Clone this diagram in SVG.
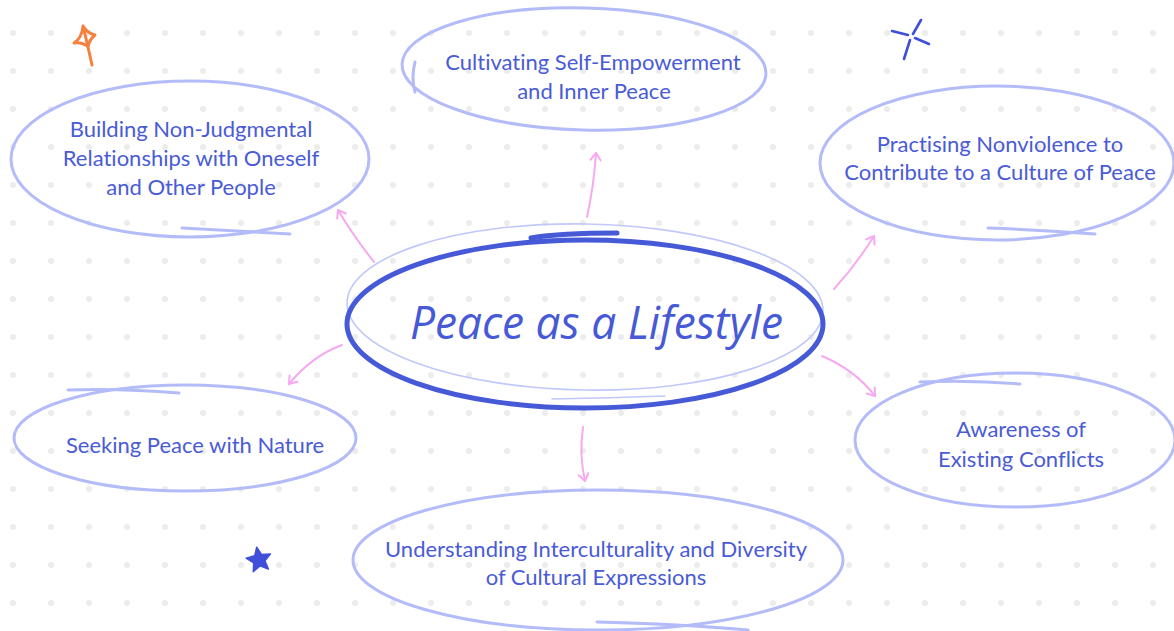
<svg xmlns="http://www.w3.org/2000/svg" width="1174" height="631" viewBox="0 0 1174 631">
  <style>
    .node-outline { fill: none; stroke: #b3bcf8; stroke-width: 3; stroke-linecap: round; }
    .node-text { font-family: "Lato", "Liberation Sans", sans-serif; font-size: 22px; fill: #4a5bd6; text-anchor: middle; font-variant-ligatures: none; }
    .conn { fill: none; stroke: #f6a9f1; stroke-width: 2; stroke-linecap: round; }
    .center-thick { fill: none; stroke: #4659d6; stroke-width: 5; stroke-linecap: round; }
    .center-thin { fill: none; stroke: #c1c8fa; stroke-width: 1.6; stroke-linecap: round; }
  </style>
  <defs>
    <pattern id="dots" patternUnits="userSpaceOnUse" x="-6" y="14" width="38" height="38">
      <circle cx="19" cy="19" r="3" fill="#ececec"/>
    </pattern>
    <marker id="arrow" markerUnits="userSpaceOnUse" markerWidth="12" markerHeight="12" refX="8" refY="5" orient="auto" overflow="visible">
      <path d="M1,0 L8,5 L1,10" fill="none" stroke="#f6a9f1" stroke-width="2" stroke-linecap="round" stroke-linejoin="round"/>
    </marker>
  </defs>

  <rect width="1174" height="631" fill="#ffffff"/>
  <rect width="1174" height="631" fill="url(#dots)"/>

  <g id="decorations">
    <path d="M83,26 Q87,33 95,35 Q89,40 88,47 L92,65 M88,47 Q83,42 74,43 Q82,38 83,26 Z" fill="none" stroke="#f5813f" stroke-width="3" stroke-linecap="round" stroke-linejoin="round"/>
    <g stroke="#3f4fd8" stroke-width="2.6" stroke-linecap="round">
      <line x1="892" y1="31" x2="908" y2="35"/>
      <line x1="915" y1="38" x2="929" y2="44"/>
      <line x1="921" y1="20" x2="913" y2="34"/>
      <line x1="910" y1="40" x2="904" y2="59"/>
    </g>
    <polygon points="256.7,547.2 261.6,554.6 270.5,553.9 264.9,560.8 268.4,569 260,565.9 253.3,571.7 253.7,562.8 246.1,558.2 254.7,555.8" fill="#3f4fd8" stroke="#3f4fd8" stroke-width="1.5" stroke-linejoin="round"/>
  </g>

  <g id="connectors">
    <path class="conn" d="M374,262 Q352,234 338,210" marker-end="url(#arrow)"/>
    <path class="conn" d="M587,217 Q594,185 596,153" marker-end="url(#arrow)"/>
    <path class="conn" d="M834,289 Q856,265 874,236" marker-end="url(#arrow)"/>
    <path class="conn" d="M342,345 Q312,356 289,384" marker-end="url(#arrow)"/>
    <path class="conn" d="M583,427 Q579,455 585,481" marker-end="url(#arrow)"/>
    <path class="conn" d="M822,356 Q855,370 875,396" marker-end="url(#arrow)"/>
  </g>

  <g id="node-center">
    <ellipse class="center-thin" cx="585" cy="307" rx="238" ry="83" transform="rotate(1 585 307)"/>
    <path class="center-thin" d="M552,399 Q610,398 665,396"/>
    <ellipse class="center-thick" cx="585" cy="324" rx="238" ry="84"/>
    <path class="center-thick" d="M531,238 Q560,233 617,233"/>
    <text x="410" y="339" font-family="Open Sans, Liberation Sans, sans-serif" font-style="italic" font-size="46" fill="#4659d6" textLength="373" lengthAdjust="spacingAndGlyphs">Peace as a Lifestyle</text>
  </g>

  <g id="node-building">
    <ellipse class="node-outline" cx="190" cy="159" rx="179" ry="78"/>
    <path class="node-outline" d="M182,228 Q240,231 290,234"/>
    <text class="node-text" x="191" y="137">Building Non-Judgmental</text>
    <text class="node-text" x="191" y="166">Relationships with Oneself</text>
    <text class="node-text" x="191" y="195">and Other People</text>
  </g>

  <g id="node-cultivating">
    <ellipse class="node-outline" cx="584" cy="69" rx="182" ry="61" transform="rotate(1.5 584 69)"/>
    <path class="node-outline" d="M415,62 Q411,78 415,92"/>
    <text class="node-text" x="593" y="70">Cultivating Self-Empowerment</text>
    <text class="node-text" x="594" y="99">and Inner Peace</text>
  </g>

  <g id="node-practising">
    <ellipse class="node-outline" cx="997" cy="163" rx="177" ry="77"/>
    <path class="node-outline" d="M988,228 Q1040,230 1095,234"/>
    <text class="node-text" x="1000" y="152">Practising Nonviolence to</text>
    <text class="node-text" x="1000" y="180">Contribute to a Culture of Peace</text>
  </g>

  <g id="node-seeking">
    <ellipse class="node-outline" cx="185" cy="438" rx="171" ry="53"/>
    <path class="node-outline" d="M68,390 Q120,388 179,393"/>
    <text class="node-text" x="195" y="453">Seeking Peace with Nature</text>
  </g>

  <g id="node-understanding">
    <ellipse class="node-outline" cx="598" cy="560" rx="245" ry="70"/>
    <path class="node-outline" d="M597,622 Q680,624 748,630"/>
    <text class="node-text" x="596" y="557">Understanding Interculturality and Diversity</text>
    <text class="node-text" x="596" y="585">of Cultural Expressions</text>
  </g>

  <g id="node-awareness">
    <ellipse class="node-outline" cx="1015" cy="440" rx="160" ry="67"/>
    <path class="node-outline" d="M920,382 Q970,380 1020,384"/>
    <text class="node-text" x="1021" y="437">Awareness of</text>
    <text class="node-text" x="1021" y="467">Existing Conflicts</text>
  </g>
</svg>
